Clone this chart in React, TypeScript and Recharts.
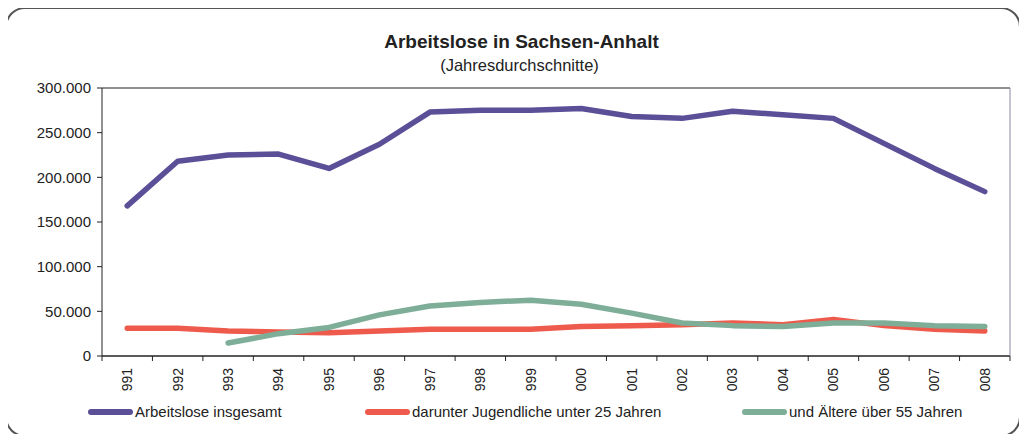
import { CartesianGrid, Line, LineChart, XAxis, YAxis } from "recharts";

const years = ["991", "992", "993", "994", "995", "996", "997", "998", "999", "000", "001", "002", "003", "004", "005", "006", "007", "008"];
const insgesamt = [168000, 218000, 225000, 226000, 210000, 237000, 273000, 275000, 275000, 277000, 268000, 266000, 274000, 270000, 266000, 238000, 210000, 184000];
const jugendliche = [31000, 31000, 28000, 27000, 26000, 28000, 30000, 30000, 30000, 33000, 34000, 35000, 37000, 35000, 41000, 34000, 30000, 28000];
const aeltere = [null, null, 14500, 25000, 32000, 46000, 56000, 60000, 62500, 58000, 48000, 37000, 34000, 33000, 37000, 37000, 34000, 33000];
const yTicks = [0, 50000, 100000, 150000, 200000, 250000, 300000];

const series = [
    { key: "insgesamt", name: "Arbeitslose insgesamt", color: "#5b4f98" },
    { key: "jugendliche", name: "darunter Jugendliche unter 25 Jahren", color: "#ee5b4d" },
    { key: "aeltere", name: "und Ältere über 55 Jahren", color: "#7eae98" },
];

const data = years.map((year, i) => ({
    year,
    insgesamt: insgesamt[i],
    jugendliche: jugendliche[i],
    aeltere: aeltere[i],
}));

const FONT = "'Liberation Sans', Arial, sans-serif";
const PLOT_LEFT = 102;
const PLOT_RIGHT = 1010;
const BAND = (PLOT_RIGHT - PLOT_LEFT) / years.length;

function formatThousands(v: number) {
    return String(v).replace(/\B(?=(\d{3})+(?!\d))/g, ".");
}

function YearTick({ x, y, payload, index }: any) {
    return (
        <g>
            {index === 0 && <line x1={x - BAND / 2} y1={y} x2={x - BAND / 2} y2={y + 5} stroke="#222" />}
            <line x1={x + BAND / 2} y1={y} x2={x + BAND / 2} y2={y + 5} stroke="#222" />
            <text
                transform={`translate(${x},${y + 12}) rotate(-90)`}
                textAnchor="end"
                dy="0.35em"
                fontSize={14}
                fill="#222"
                fontFamily={FONT}
            >
                {payload.value}
            </text>
        </g>
    );
}

const legendPos = [88, 365, 742];

export default function App() {
    return (
        <div style={{ position: "relative", width: 1027, height: 442, margin: -8, fontFamily: FONT, background: "#fff" }}>
            <div style={{ position: "absolute", left: 0, width: 1027, top: 31, textAlign: "center", fontSize: 19, fontWeight: "bold", color: "#222" }}>
                <span style={{ marginLeft: 16 }}>Arbeitslose in Sachsen-Anhalt</span>
            </div>
            <div style={{ position: "absolute", left: 0, width: 1027, top: 56, textAlign: "center", fontSize: 16.5, color: "#222" }}>
                <span style={{ marginLeft: 12 }}>(Jahresdurchschnitte)</span>
            </div>

            <div style={{ position: "absolute", left: 0, top: 0 }}>
                <LineChart
                    width={1027}
                    height={442}
                    data={data}
                    margin={{ top: 88, right: 16, bottom: 46, left: 0 }}
                    style={{ fontFamily: FONT }}
                >
                    <CartesianGrid vertical={false} stroke="#222" strokeWidth={1} />
                    <XAxis
                        dataKey="year"
                        interval={0}
                        height={40}
                        padding={{ left: BAND / 2, right: BAND / 2 }}
                        tickSize={0}
                        tickMargin={0}
                        tickLine={false}
                        axisLine={{ stroke: "#222" }}
                        tick={<YearTick />}
                    />
                    <YAxis
                        yAxisId="left"
                        width={102}
                        domain={[0, 300000]}
                        ticks={yTicks}
                        tickFormatter={formatThousands}
                        tickSize={5}
                        tickMargin={6}
                        tick={{ fontSize: 15, fill: "#222" }}
                        axisLine={{ stroke: "#222" }}
                        tickLine={{ stroke: "#222" }}
                    />
                    <YAxis
                        yAxisId="right"
                        orientation="right"
                        width={1}
                        domain={[0, 300000]}
                        tick={false}
                        tickLine={false}
                        axisLine={{ stroke: "#8a88a8" }}
                    />
                    {series.map((s) => (
                        <Line
                            key={s.key}
                            yAxisId="left"
                            type="linear"
                            dataKey={s.key}
                            name={s.name}
                            stroke={s.color}
                            strokeWidth={5.5}
                            strokeLinecap="round"
                            strokeLinejoin="round"
                            dot={false}
                            activeDot={false}
                            connectNulls={false}
                            isAnimationActive={false}
                        />
                    ))}
                </LineChart>
            </div>

            {series.map((s, i) => (
                <div
                    key={s.key}
                    style={{
                        position: "absolute",
                        left: legendPos[i],
                        top: 403,
                        display: "flex",
                        alignItems: "center",
                        fontSize: 15,
                        color: "#222",
                        whiteSpace: "nowrap",
                    }}
                >
                    <span style={{ display: "inline-block", width: 45, height: 6, borderRadius: 3, background: s.color, marginRight: 2 }} />
                    <span>{s.name}</span>
                </div>
            ))}

            <div
                style={{
                    position: "absolute",
                    left: 5,
                    top: 7,
                    width: 1012,
                    height: 426,
                    border: "2px solid #555",
                    borderRadius: 20,
                    pointerEvents: "none",
                }}
            />
        </div>
    );
}
